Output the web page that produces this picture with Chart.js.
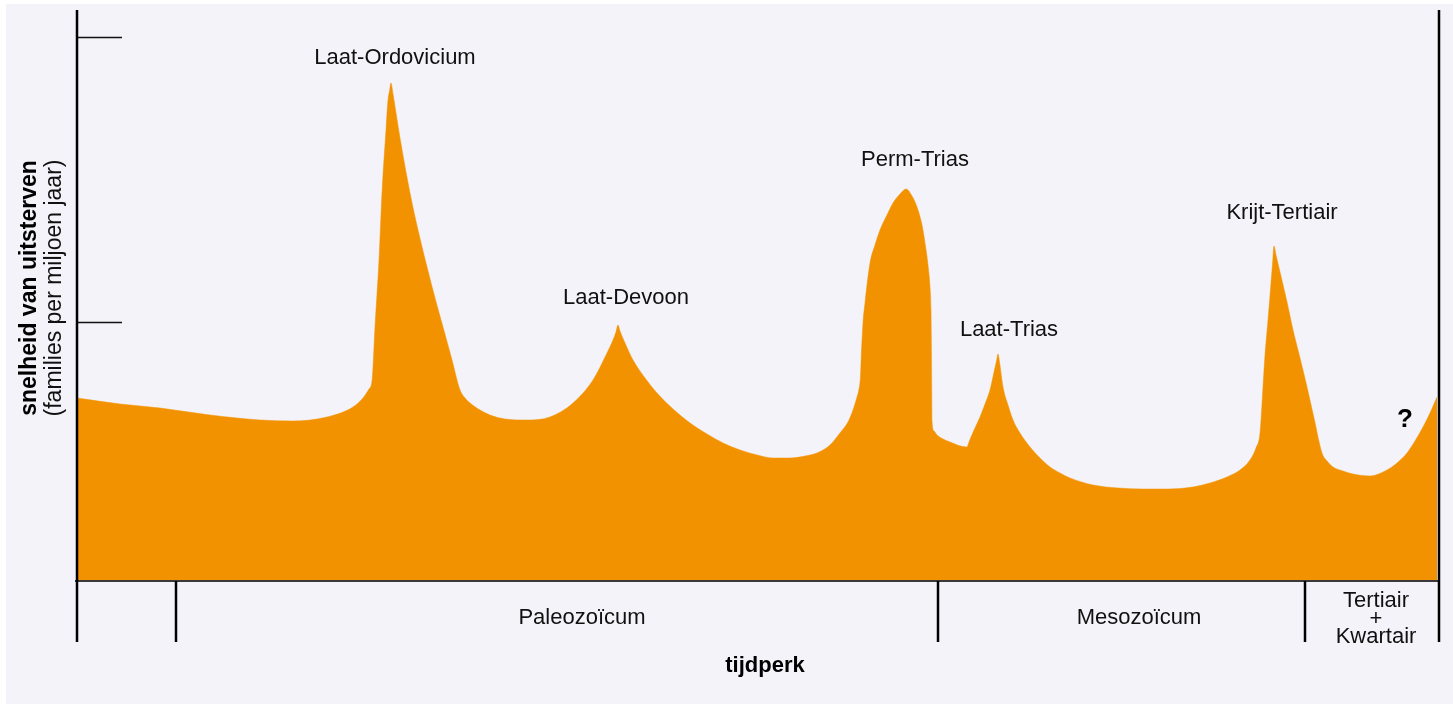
<!DOCTYPE html>
<html>
<head>
<meta charset="utf-8">
<script src="https://cdn.jsdelivr.net/npm/chart.js@4/dist/chart.umd.min.js"></script>
<style>
html,body{margin:0;padding:0;background:#ffffff;}
#wrap{position:relative;width:1453px;height:706px;}
canvas{display:block;}
</style>
</head>
<body>
<div id="wrap"><canvas id="c" width="1453" height="706"></canvas></div>
<script>
// ---- data (x = time units along the axis, y = extinction rate units) ----
const timeValues = [0,43,83,133,183,216,250,276,286,292,295,298,302,305,309,311,312.5,314,316,323,333,341,350,358,366,375,383,388,393,403,413,428,450,473,496,516,530,536,539,541,543,548,556,568,580,596,613,630,646,663,680,696,713,728,740,753,763,771,776,780,782,783.5,784.5,786,788,793,798,803,810,816,823,829,835,840,845,848,851,853,854,854.3,854.5,854.7,855,857,860,873,890,892,894,898,903,908,913,917,919.5,921,922.5,926,931,936,943,953,963,973,983,993,1016,1041,1066,1091,1116,1133,1150,1163,1173,1179,1183,1186,1188,1191,1194,1195.5,1197,1199,1203,1210,1216,1223,1230,1237,1245,1250,1256,1266,1276,1293,1310,1320,1330,1338,1346,1353,1360];
const rateValues = [183,177,173,166,161,160,164,174,183,192,200,254,321,388,451,481,490,498,487,443,388,351,314,283,254,221,191,183,178,171,166,162,161,164,178,201,228,241,249,256,250,238,221,203,188,172,158,147,138,131,126,123,123,125,128,136,148,159,171,184,192,205,230,258,278,318,336,351,366,378,387,392,385,374,356,338,316,294,271,244,219,194,160,150,146,139,134,139,144,153,164,177,191,209,220,227,219,194,176,161,148,134,123,114,108,103,96,93,92,92,94,98,104,111,121,133,148,194,226,261,298,317,335,326,309,279,251,223,194,163,128,120,114,110,107,105,111,118,128,140,154,168,184];

const yTicks = [259, 544];
const eraBounds = [0, 99, 861, 1228, 1362];
const eraLabels = [["Paleozoïcum"], ["Mesozoïcum"], ["Tertiair", "+", "Kwartair"]];
const eraLabelX = [505, 1062, 1299];

const eventNames = ["Laat-Ordovicium", "Laat-Devoon", "Perm-Trias", "Laat-Trias", "Krijt-Tertiair", "?"];
const eventLabelX = [318, 549, 838, 932, 1205, 1328];
const eventLabelY = [523, 283, 421, 251, 368, 161];

const xTitle = "tijdperk";
const yTitleBold = "snelheid van uitsterven";
const yTitleNormal = "(families per miljoen jaar)";

const points = timeValues.map((t, i) => ({x: t, y: rateValues[i]}));

const FONT = "'Liberation Sans', Arial, sans-serif";

const decor = {
  id: 'decor',
  beforeDraw(chart) {
    const ctx = chart.ctx;
    ctx.save();
    ctx.fillStyle = '#ffffff';
    ctx.fillRect(0, 0, chart.width, chart.height);
    ctx.fillStyle = '#f3f3f9';
    ctx.fillRect(6, 4, chart.width - 6, chart.height - 6);
    ctx.restore();
  },
  afterDatasetsDraw(chart) {
    const ctx = chart.ctx;
    const xs = chart.scales.x, ys = chart.scales.y;
    const area = chart.chartArea;
    const y0 = ys.getPixelForValue(0);
    const yTop = area.top;
    const yBot = y0 + 61;
    ctx.save();
    // baseline
    ctx.strokeStyle = '#3a3a3a';
    ctx.lineWidth = 2;
    ctx.beginPath();
    ctx.moveTo(xs.getPixelForValue(eraBounds[0]) - 2, y0);
    ctx.lineTo(xs.getPixelForValue(eraBounds[eraBounds.length - 1]), y0);
    ctx.stroke();
    // y ticks (inward)
    ctx.strokeStyle = '#111';
    ctx.lineWidth = 1.5;
    yTicks.forEach(v => {
      const py = Math.round(ys.getPixelForValue(v)) + 0.5;
      ctx.beginPath();
      ctx.moveTo(xs.getPixelForValue(0), py);
      ctx.lineTo(xs.getPixelForValue(0) + 45, py);
      ctx.stroke();
    });
    // era boundaries
    ctx.strokeStyle = '#000';
    ctx.lineWidth = 2.5;
    eraBounds.forEach((b, i) => {
      const px = xs.getPixelForValue(b);
      const first = i === 0, last = i === eraBounds.length - 1;
      ctx.beginPath();
      ctx.moveTo(px, (first || last) ? yTop : y0);
      ctx.lineTo(px, yBot);
      ctx.stroke();
    });
    // era labels
    ctx.fillStyle = '#111';
    ctx.textAlign = 'center';
    ctx.textBaseline = 'middle';
    ctx.font = '22px ' + FONT;
    eraLabels.forEach((lines, i) => {
      const px = xs.getPixelForValue(eraLabelX[i]);
      if (lines.length === 1) {
        ctx.fillText(lines[0], px, y0 + 37);
      } else {
        const lh = 18;
        lines.forEach((ln, j) => ctx.fillText(ln, px, y0 + 20 + j * lh));
      }
    });
    // event labels
    eventNames.forEach((n, i) => {
      const px = xs.getPixelForValue(eventLabelX[i]);
      const py = ys.getPixelForValue(eventLabelY[i]);
      if (n === '?') {
        ctx.font = 'bold 26px ' + FONT;
        ctx.fillStyle = '#000';
      } else {
        ctx.font = '22px ' + FONT;
        ctx.fillStyle = '#111';
      }
      ctx.fillText(n, px, py);
    });
    // x title
    ctx.font = 'bold 22px ' + FONT;
    ctx.fillStyle = '#000';
    ctx.fillText(xTitle, (xs.getPixelForValue(eraBounds[0]) + xs.getPixelForValue(eraBounds[eraBounds.length-1])) / 2 + 7, y0 + 85);
    // y titles
    const cy = 288;
    ctx.save();
    ctx.translate(30, cy);
    ctx.rotate(-Math.PI / 2);
    ctx.font = 'bold 23px ' + FONT;
    ctx.fillText(yTitleBold, 0, 0);
    ctx.restore();
    ctx.save();
    ctx.translate(55, cy);
    ctx.rotate(-Math.PI / 2);
    ctx.font = '23px ' + FONT;
    ctx.fillStyle = '#111';
    ctx.fillText(yTitleNormal, 0, 0);
    ctx.restore();
    ctx.restore();
  }
};

new Chart(document.getElementById('c'), {
  type: 'line',
  data: {
    datasets: [{
      data: points,
      fill: 'origin',
      backgroundColor: '#f39200',
      borderColor: '#f39200',
      borderWidth: 0.5,
      pointRadius: 0,
      tension: 0.4,
      cubicInterpolationMode: 'monotone'
    }]
  },
  options: {
    responsive: false,
    animation: false,
    events: [],
    layout: {padding: {left: 77, top: 10, right: 14, bottom: 125}},
    plugins: {legend: {display: false}, tooltip: {enabled: false}},
    scales: {
      x: {type: 'linear', min: 0, max: 1362, display: false},
      y: {type: 'linear', min: 0, max: 571, display: false}
    }
  },
  plugins: [decor]
});
</script>
</body>
</html>
